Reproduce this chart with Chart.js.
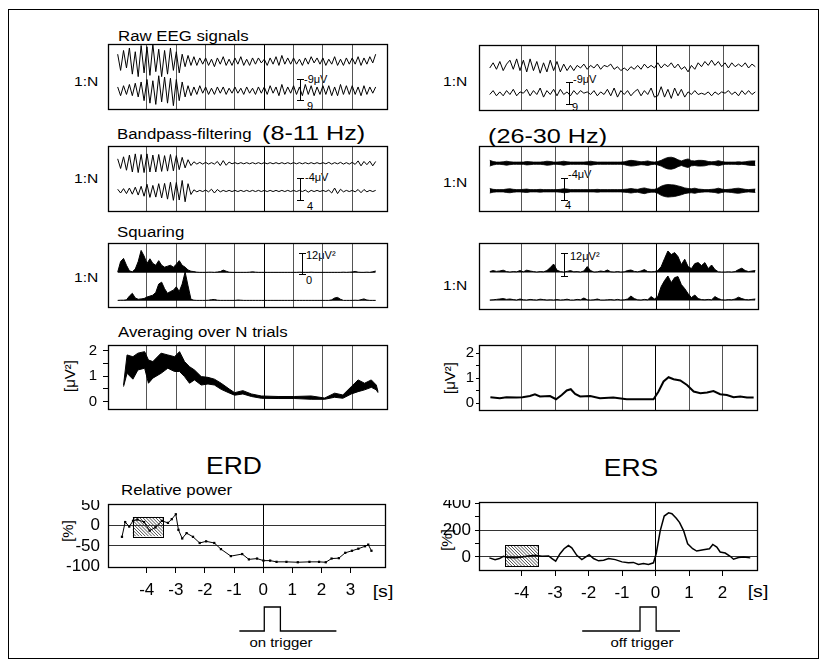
<!DOCTYPE html>
<html>
<head>
<meta charset="utf-8">
<script src="https://cdn.jsdelivr.net/npm/chart.js@4.4.0/dist/chart.umd.min.js"></script>
<style>
body { margin: 0; background: #fff; width: 824px; height: 664px; position: relative; overflow: hidden; font-family: "Liberation Sans", Arial, sans-serif; color: #000; }
canvas { position: absolute; }
.t { position: absolute; white-space: nowrap; line-height: 1; transform-origin: 0 50%; transform: translateY(-50%) scaleX(1.2); }
.c { position: absolute; white-space: nowrap; line-height: 1; transform: translate(-50%, -50%) scaleX(1.15); }
.rot { position: absolute; white-space: nowrap; line-height: 1; transform: translate(-50%, -50%) rotate(-90deg); }
.s { position: absolute; white-space: nowrap; line-height: 1; transform: translateY(-50%); font-size: 11px; }
.bar { position: absolute; border-left: 1px solid #000; }
.bar:before, .bar:after { content: ""; position: absolute; left: -4px; width: 7px; border-top: 1px solid #000; }
.bar:before { top: 0; }
.bar:after { bottom: 0; }
#frame { position: absolute; left: 8px; top: 9px; width: 809px; height: 648px; border: 1px solid #000; }
</style>
</head>
<body>
<div id="frame"></div>

<div class="t" style="left:118px;top:36px;font-size:14px">Raw EEG signals</div>
<div class="t" style="left:117px;top:134px;font-size:14px">Bandpass-filtering</div>
<div class="t" style="left:262px;top:132px;font-size:21px">(8-11 Hz)</div>
<div class="t" style="left:488px;top:135px;font-size:21px">(26-30 Hz)</div>
<div class="t" style="left:117px;top:232px;font-size:14px">Squaring</div>
<div class="t" style="left:118px;top:332px;font-size:14px">Averaging over N trials</div>
<div class="t" style="left:121px;top:490px;font-size:14px">Relative power</div>
<div class="c" style="left:234px;top:466px;font-size:23px">ERD</div>
<div class="c" style="left:631px;top:468px;font-size:23px">ERS</div>

<div class="t" style="left:74px;top:81px;font-size:13px">1:N</div>
<div class="t" style="left:74px;top:178px;font-size:13px">1:N</div>
<div class="t" style="left:74px;top:277px;font-size:13px">1:N</div>
<div class="t" style="left:443px;top:81px;font-size:13px">1:N</div>
<div class="t" style="left:443px;top:182px;font-size:13px">1:N</div>
<div class="t" style="left:443px;top:285px;font-size:13px">1:N</div>

<div class="rot" style="left:69px;top:376px;font-size:15px">[μV²]</div>
<div class="rot" style="left:449px;top:378px;font-size:15px">[μV²]</div>
<div class="rot" style="left:67px;top:531px;font-size:15px">[%]</div>
<div class="rot" style="left:446px;top:540px;font-size:15px">[%]</div>
<div class="c" style="left:383px;top:591px;font-size:17px">[s]</div>
<div class="c" style="left:758px;top:591px;font-size:17px">[s]</div>
<div class="c" style="left:281px;top:642px;font-size:13px">on trigger</div>
<div class="c" style="left:642px;top:642px;font-size:13px">off trigger</div>

<div class="bar" style="left:300px;top:79px;height:22px"></div>
<div class="s" style="left:304px;top:79px">-9μV</div>
<div class="s" style="left:307px;top:106px">9</div>
<div class="bar" style="left:569px;top:82px;height:23px"></div>
<div class="s" style="left:573px;top:79px">-9μV</div>
<div class="s" style="left:572px;top:107px">9</div>
<div class="bar" style="left:300px;top:178px;height:23px"></div>
<div class="s" style="left:305px;top:177px">-4μV</div>
<div class="s" style="left:307px;top:206px">4</div>
<div class="bar" style="left:564px;top:178px;height:23px"></div>
<div class="s" style="left:568px;top:174px">-4μV</div>
<div class="s" style="left:565px;top:205px">4</div>
<div class="bar" style="left:302px;top:253px;height:22px"></div>
<div class="s" style="left:306px;top:255px">12μV²</div>
<div class="s" style="left:306px;top:280px">0</div>
<div class="bar" style="left:564px;top:253px;height:24px"></div>
<div class="s" style="left:570px;top:256px">12μV²</div>

<script>
// time axes in seconds
const leftRange = [-5.33, 4.22];
const rightRange = [-5.27, 3.06];
const secondTicksLeft = [-4, -3, -2, -1, 0, 1, 2, 3];
const secondTicksRight = [-4, -3, -2, -1, 0, 1, 2];
const sampleStep = 0.1;
const leftStart = -5.0;
const rightStart = -4.95;

// raw EEG, uV (negative up)
const rawLeftTop = [-6,7,-9,5,-11,10,-8,12,-13,9, -12,11,-14,8,-10,12,-9,10,-11,7, -8,9,-6,4,-5,3,-4,3,-3,2, -3,3,-2,4,-3,2,-4,3,-2,3,
  -3,2,-4,3,-2,3,-3,2,-3,1, -2,3,-3,2,-4,3,-5,2,-3,2, -3,2,-2,3,-3,2,-4,1,-3,2, -3,3,-2,2,-4,3,-2,3,-3,2, -3,2,-4,3,-3,2,-4,1,-6];
const rawLeftBottom = [-3,4,-4,3,-5,4,-6,5,-7,8, -9,10,-8,11,-12,9,-11,10,-10,12, -9,8,-7,5,-4,4,-3,3,-4,2, -3,3,-2,3,-3,2,-3,3,-2,2,
  -3,2,-2,3,-3,2,-2,3,-3,2, -3,3,-4,2,-3,4,-5,3,-3,2, -4,3,-3,4,-5,3,-4,4,-3,3, -4,3,-4,4,-3,4,-5,3,-4,3, -4,3,-3,4,-4,3,-3,2,-3];
const rawRightTop = [1,-3,2,-4,3,-2,-5,2,-6,3, -5,4,-6,3,-4,5,-3,4,-5,3, -4,4,-2,3,-1,3,-1,1,-2,2, -1,1,-2,2,-1,0,-2,2,0,3,
  1,3,0,2,-1,2,-2,1,-1,1, -3,1,-2,0,-3,1,-2,2,0,4, -1,2,-3,0,-4,-1,-5,-1,-4,0, -3,1,-3,0,-2,0,-3,1,-2,0];
const rawRightBottom = [1,-2,2,-1,2,-2,1,-3,2,-1, 0,-3,2,-2,1,-4,3,-2,1,-3, 2,-3,1,-1,2,-2,1,-2,0,-1, 1,-2,2,-1,1,-3,2,-4,3,-2,
  1,-2,2,-1,-3,2,-2,1,-4,3, 2,-5,3,-3,4,-4,2,-3,3,-1, 1,-2,1,0,1,-1,2,-1,1,-1, 0,-2,1,-1,2,-2,1,-2,1,-1];

// bandpass 8-11 Hz, uV
const bpLeftTop = [-1.5,1.8,-2.2,2.4,-2.8,3,-3.2,3.2,-3,3.2, -3.2,3,-2.8,3,-3,2.8,-2.6,2.7,-3,2.6, -2.6,2.2,-2,1.6,-1.2,0.8,-0.5,0.3,-0.3,0.3,
  -0.3,0.3,-0.2,0.3,-0.6,0.8,-0.9,0.7,-0.4,0.2, -0.2,0.2,-0.2,0.2,-0.2,0.2,-0.2,0.2,-0.2,0.2, -0.2,0.2,-0.2,0.2,-0.2,0.2,-0.2,0.2,-0.2,0.2,
  -0.2,0.2,-0.2,0.2,-0.2,0.2,-0.2,0.2,-0.2,0.2, -0.2,0.2,-0.3,0.3,-0.2,0.2,-0.3,0.3,-0.2,0.3, -0.3,0.4,-0.8,0.9,-0.6,0.5,-0.7,0.9,-0.6];
const bpLeftBottom = [-0.6,0.7,-0.8,0.9,-1,1.1,-1.3,1.4,-1.6,1.8, -2.3,2.2,-1.9,2.1,-2.5,2.4,-2.6,2.8,-3,3.2, -2.9,3.1,-3.6,3.7,-2.5,1.2,-0.4,0.3,-0.2,0.2,
  -0.3,0.3,-0.6,0.7,-0.5,0.3,-0.2,0.2,-0.2,0.2, -0.2,0.2,-0.2,0.2,-0.2,0.2,-0.2,0.2,-0.2,0.2, -0.2,0.2,-0.2,0.2,-0.2,0.2,-0.2,0.2,-0.2,0.2,
  -0.2,0.2,-0.2,0.2,-0.3,0.4,-0.2,0.2,-0.2,0.2, -0.2,0.2,-0.3,0.7,-1,0.9,-0.6,0.3,-0.2,0.2, -0.2,0.3,-0.5,0.6,-0.5,0.3,-0.2,0.2,-0.2];

// bandpass 26-30 Hz, envelope half-width in uV
const bpRightTopEnv = [1.0,0.6,0.4,0.4,0.5,0.7,0.5,0.4,0.4,0.4, 0.4,0.6,0.5,0.4,0.4,0.4,0.5,0.7,0.6,0.4, 0.4,0.5,0.7,0.5,0.4,0.4,0.4,0.4,0.4,0.5,
  0.7,0.5,0.4,0.4,0.4,0.4,0.4,0.4,0.4,0.4, 0.5,0.8,1.0,0.9,0.7,0.5,0.6,0.8,0.5,0.4, 0.6,1.0,1.6,2.0,2.1,1.8,1.2,0.8,1.2,1.5,
  0.9,0.8,1.0,1.0,0.9,0.6,0.5,0.6,0.9,0.6, 0.4,0.4,0.4,0.4,0.5,0.4,0.5,0.7,0.8,0.8];
const bpRightBottomEnv = [0.8,0.5,0.4,0.4,0.4,0.6,0.7,0.5,0.4,0.4, 0.5,0.6,0.4,0.4,0.4,0.5,0.4,0.4,0.4,0.4, 0.4,0.5,0.7,0.6,0.4,0.4,0.4,0.4,0.4,0.4,
  0.4,0.4,0.5,0.4,0.4,0.4,0.4,0.4,0.4,0.4, 0.5,0.6,0.8,0.6,0.5,0.8,1.0,0.7,0.5,0.5, 0.9,1.6,2.0,2.2,2.1,2.0,1.7,1.4,1.0,0.8,
  0.7,0.9,0.6,0.5,0.4,0.4,0.5,0.6,0.9,0.6, 0.4,0.5,0.6,0.8,0.9,0.7,0.5,0.4,0.5,0.6];

// squared signals, uV^2
const sqLeftTop = [0.3,6,7.7,4,1,0.5,2,6,12,9, 5,7.5,5,4,6.5,4,3,3.5,4,3, 4.5,6.5,4,3,1.5,0.8,0.6,0.3,0.2,0.2,
  0.2,0.3,0.3,0.2,0.4,0.6,1.4,0.8,0.3,0.2, 0.2,0.2,0.2,0.2,0.2,0.3,0.5,0.3,0.2,0.2, 0.2,0.2,0.2,0.2,0.2,0.2,0.2,0.2,0.2,0.2,
  0.2,0.2,0.3,0.2,0.2,0.2,0.3,0.2,0.2,0.2, 0.2,0.2,0.2,0.2,0.2,0.2,0.2,0.3,0.2,0.3, 0.4,0.7,0.3,0.2,0.2,0.3,0.2,0.5,0.9];
const sqLeftBottom = [0.2,0.3,0.3,0.5,2.5,4,1.5,0.8,1,1.2, 2,2.5,3,4.5,9,10,6.5,4,5,5.7, 7.5,5,9,15.5,8,0.8,0.3,0.2,0.2,0.2,
  0.2,0.3,0.6,0.7,0.3,0.2,0.2,0.2,0.2,0.2, 0.2,0.4,0.3,0.2,0.2,0.2,0.2,0.2,0.2,0.2, 0.2,0.2,0.2,0.2,0.2,0.2,0.2,0.2,0.2,0.2,
  0.2,0.2,0.2,0.2,0.2,0.2,0.2,0.2,0.2,0.2, 0.2,0.2,0.2,0.5,1.5,1.8,0.8,0.2,0.2,0.2, 0.2,0.3,0.2,0.6,1.0,0.4,0.2,0.2,0.2];
const sqRightTop = [0.5,1,0.6,0.8,1.2,0.5,0.3,0.5,0.4,1, 0.4,1.2,0.8,0.5,0.3,0.5,0.4,1,2.5,4.3, 1.2,0.5,0.3,0.6,1,0.4,0.5,0.3,0.8,3,
  1,0.3,0.4,0.8,0.5,1.3,0.4,0.3,0.5,0.3, 0.4,1,1.3,0.6,0.4,0.8,1.5,0.5,0.4,0.5, 1,3,7,10.8,9,10,8,4,6.7,3,
  2,4.5,5,3.5,5,2,3.8,1.5,0.4,0.3, 0.3,0.4,0.3,0.5,1.5,2.2,1,0.5,0.8,1];
const sqRightBottom = [0.3,0.4,0.6,0.8,1,0.6,0.8,0.5,0.3,0.8, 0.4,0.3,0.6,0.4,0.3,0.7,0.5,0.3,0.4,0.3, 0.5,0.3,0.4,0.7,0.3,0.3,0.6,0.4,1.3,0.4,
  0.3,0.4,0.8,0.3,0.3,0.4,0.5,0.3,0.6,0.3, 0.4,0.8,2.3,1,0.4,0.3,0.6,0.4,2,0.8, 2,7,10,12.3,9,11.5,12,8,6,3.5,
  1.5,2.8,1,0.5,0.4,0.6,0.4,2,1,0.4, 0.3,0.5,0.4,0.8,1.7,1,0.5,0.4,0.6,0.8];

// averaged power, uV^2
const avgLeftTime = [-4.8,-4.68,-4.48,-4.31,-4.08,-3.95,-3.8,-3.52,-3.29,-3.06,-2.89,-2.72,-2.55,-2.38,-2.15,-1.92,-1.7,-1.47,-1.18,-1.01,-0.73,-0.44,-0.1,0.47,1.04,1.6,2.06,2.4,2.68,2.97,3.2,3.42,3.65,3.82,3.88];
const avgLeftHigh = [0.65,1.83,1.76,1.9,1.96,1.63,1.57,1.9,1.83,1.76,1.96,1.57,1.37,1.24,0.98,0.95,0.88,0.72,0.48,0.35,0.43,0.3,0.22,0.2,0.2,0.22,0.14,0.33,0.26,0.59,0.85,0.72,0.85,0.65,0.39];
const avgLeftLow = [0.59,1.11,0.88,1.24,1.31,0.72,0.92,1.11,1.31,1.18,1.18,0.98,0.72,0.85,0.65,0.69,0.65,0.48,0.33,0.25,0.3,0.2,0.13,0.12,0.12,0.09,0.09,0.17,0.13,0.3,0.39,0.46,0.56,0.46,0.35];
const avgRightTime = [-4.93,-4.65,-4.45,-4.15,-3.97,-3.75,-3.6,-3.45,-3.15,-2.97,-2.8,-2.65,-2.53,-2.4,-2.25,-1.95,-1.66,-1.26,-0.86,-0.46,-0.06,0.09,0.24,0.39,0.54,0.74,0.94,1.14,1.34,1.54,1.73,1.93,2.13,2.33,2.53,2.73,2.93];
const avgRightValue = [0.24,0.2,0.24,0.23,0.24,0.29,0.36,0.27,0.29,0.16,0.33,0.51,0.56,0.37,0.27,0.29,0.2,0.23,0.16,0.16,0.16,0.47,0.87,1.04,0.96,0.91,0.73,0.47,0.4,0.43,0.49,0.36,0.33,0.24,0.27,0.23,0.23];
const avgTicks = [0, 0.5, 1, 1.5, 2];

// relative power, %
const erdTime = [-4.85,-4.74,-4.6,-4.47,-4.32,-4.09,-3.9,-3.7,-3.48,-3.27,-3.14,-3.0,-2.91,-2.78,-2.63,-2.41,-2.18,-1.96,-1.68,-1.45,-1.11,-0.72,-0.49,-0.21,0.01,0.24,0.46,0.8,1.19,1.59,1.92,2.15,2.35,2.6,2.82,3.05,3.27,3.5,3.61,3.72];
const erdValue = [-28,8,-3,11,14,8,-13,-5,11,6,15,27,-11,-32,-19,-28,-43,-39,-43,-58,-75,-70,-83,-81,-86,-86,-89,-89,-90,-89,-89,-90,-81,-80,-67,-62,-57,-51,-47,-62];
const erdTicks = [-100, -50, 0, 50];
const ersTime = [-4.96,-4.79,-4.66,-4.54,-4.39,-4.19,-3.99,-3.79,-3.59,-3.39,-3.19,-3.09,-2.98,-2.85,-2.73,-2.6,-2.5,-2.35,-2.2,-2.08,-1.98,-1.85,-1.7,-1.55,-1.4,-1.2,-1.0,-0.81,-0.66,-0.51,-0.36,-0.21,-0.06,0.02,0.14,0.26,0.39,0.49,0.62,0.72,0.84,0.96,1.11,1.23,1.43,1.61,1.71,1.83,1.93,2.08,2.23,2.33,2.48,2.63,2.83];
const ersValue = [-7,-20,-12,5,-5,-7,0,7,12,5,7,-12,-32,24,61,85,68,12,-20,0,17,-12,-29,-24,-12,-20,-37,-44,-41,-56,-49,-56,-44,24,195,305,329,322,288,256,195,98,61,44,54,61,93,73,37,29,5,-17,-5,0,-7];
const ersTicks = [0, 100, 200, 300, 400];

// reference intervals (hatched)
const erdRefTime = [-4.48, -3.45];
const erdRefRange = [-27, 21];
const ersRefTime = [-4.48, -3.5];
const ersRefRange = [-68, 90];

// trigger signals
const onTriggerTime = [-0.85, 0, 0, 0.55, 0.55, 2.46];
const offTriggerTime = [-2.2, -0.48, -0.48, 0, 0, 0.71];
const triggerLevel = [0, 0, 1, 1, 0, 0];

Chart.defaults.font.family = '"Liberation Sans", Arial, sans-serif';
Chart.defaults.color = '#000';

const framePlugin = {
    id: 'frame',
    afterDraw(chart) {
        const a = chart.chartArea;
        const ctx = chart.ctx;
        ctx.save();
        ctx.strokeStyle = '#000';
        ctx.lineWidth = 1.3;
        ctx.strokeRect(Math.round(a.left) + 0.5, Math.round(a.top) + 0.5, Math.round(a.right - a.left) - 1, Math.round(a.bottom - a.top) - 1);
        ctx.restore();
    }
};

const refBoxPlugin = {
    id: 'refBox',
    beforeDatasetsDraw(chart, args, opts) {
        if (!opts || !opts.time) return;
        const x = chart.scales.x, y = chart.scales.y;
        const l = x.getPixelForValue(opts.time[0]), r = x.getPixelForValue(opts.time[1]);
        const t = y.getPixelForValue(opts.range[1]), b = y.getPixelForValue(opts.range[0]);
        const ctx = chart.ctx;
        ctx.save();
        ctx.beginPath();
        ctx.rect(l, t, r - l, b - t);
        ctx.clip();
        ctx.strokeStyle = '#222';
        ctx.lineWidth = 0.8;
        for (let d = -(b - t); d < r - l; d += 3.2) {
            ctx.beginPath();
            ctx.moveTo(l + d, t);
            ctx.lineTo(l + d + (b - t), b);
            ctx.stroke();
        }
        ctx.restore();
        ctx.save();
        ctx.strokeStyle = '#000';
        ctx.lineWidth = 1;
        ctx.strokeRect(Math.round(l) + 0.5, Math.round(t) + 0.5, Math.round(r - l), Math.round(b - t));
        ctx.restore();
    }
};

function addCanvas(left, top, width, height) {
    const c = document.createElement('canvas');
    c.width = width;
    c.height = height;
    c.style.left = left + 'px';
    c.style.top = top + 'px';
    c.style.width = width + 'px';
    c.style.height = height + 'px';
    document.body.appendChild(c);
    return c;
}

function sampled(start, values) {
    return values.map((v, i) => ({ x: start + i * sampleStep, y: v }));
}

function paired(times, values) {
    return times.map((t, i) => ({ x: t, y: values[i] }));
}

function line(data, yAxisID, extra) {
    return Object.assign({ data, yAxisID, borderColor: '#000', borderWidth: 1, pointRadius: 0, tension: 0, fill: false }, extra || {});
}

function timeAxis(range, ticks) {
    return {
        type: 'linear', min: range[0], max: range[1],
        afterBuildTicks: s => { s.ticks = ticks.map(v => ({ value: v })); },
        afterFit: s => { s.height = 0; s.paddingLeft = 0; s.paddingRight = 0; },
        ticks: { display: false },
        grid: { color: c => (c.tick && c.tick.value === 0) ? '#000' : '#555', drawTicks: false, tickLength: 0 },
        border: { display: false }
    };
}

function hiddenY(min, max, reverse) {
    return { type: 'linear', display: false, min, max, reverse: !!reverse };
}

function baseOptions(scales, padding, extraPlugins) {
    return {
        responsive: false, animation: false, devicePixelRatio: 1,
        layout: { padding },
        plugins: Object.assign({ legend: { display: false }, tooltip: { enabled: false } }, extraPlugins || {}),
        scales
    };
}

function tracePanel(box, range, ticks, datasets, yScales) {
    const c = addCanvas(box[0] - 2, box[1] - 2, box[2] + 4, box[3] + 4);
    return new Chart(c, {
        type: 'line',
        data: { datasets },
        options: baseOptions(Object.assign({ x: timeAxis(range, ticks) }, yScales), 2),
        plugins: [framePlugin]
    });
}

// raw EEG
tracePanel([108, 44, 280, 66], leftRange, secondTicksLeft, [
    line(sampled(leftStart, rawLeftTop), 'yTop'),
    line(sampled(leftStart, rawLeftBottom), 'yBot')
], { yTop: hiddenY(-14.2, 38.8, true), yBot: hiddenY(-37.5, 15.5, true) });

tracePanel([479, 45, 280, 66], rightRange, secondTicksRight, [
    line(sampled(rightStart, rawRightTop), 'yTop'),
    line(sampled(rightStart, rawRightBottom), 'yBot')
], { yTop: hiddenY(-16.7, 34.1, true), yBot: hiddenY(-37.1, 13.7, true) });

// bandpass filtered
tracePanel([108, 146, 280, 66], leftRange, secondTicksLeft, [
    line(sampled(leftStart, bpLeftTop), 'yTop'),
    line(sampled(leftStart, bpLeftBottom), 'yBot')
], { yTop: hiddenY(-5.9, 16.7, true), yBot: hiddenY(-15.4, 7.2, true) });

tracePanel([479, 146, 280, 66], rightRange, secondTicksRight, [
    line(sampled(rightStart, bpRightTopEnv.map(v => -v)), 'yTop', { borderWidth: 0.8 }),
    line(sampled(rightStart, bpRightTopEnv), 'yTop', { borderWidth: 0.8, fill: '-1', backgroundColor: '#000' }),
    line(sampled(rightStart, bpRightBottomEnv.map(v => -v)), 'yBot', { borderWidth: 0.8 }),
    line(sampled(rightStart, bpRightBottomEnv), 'yBot', { borderWidth: 0.8, fill: '-1', backgroundColor: '#000' })
], { yTop: hiddenY(-6.0, 17.0, true), yBot: hiddenY(-15.6, 7.4, true) });

// squaring
tracePanel([108, 243, 280, 65], leftRange, secondTicksLeft, [
    line(sampled(leftStart, sqLeftTop), 'yTop', { fill: 'origin', backgroundColor: '#000' }),
    line(sampled(leftStart, sqLeftBottom), 'yBot', { fill: 'origin', backgroundColor: '#000' })
], { yTop: hiddenY(-19.0, 16.0), yBot: hiddenY(-3.9, 31.1) });

tracePanel([479, 243, 280, 67], rightRange, secondTicksRight, [
    line(sampled(rightStart, sqRightTop), 'yTop', { fill: 'origin', backgroundColor: '#000' }),
    line(sampled(rightStart, sqRightBottom), 'yBot', { fill: 'origin', backgroundColor: '#000' })
], { yTop: hiddenY(-18.7, 14.8), yBot: hiddenY(-4.7, 28.8) });

// averaging over N trials
function avgAxis(min, max, width, tickLength, padding) {
    return {
        type: 'linear', min, max,
        afterBuildTicks: s => { s.ticks = avgTicks.map(v => ({ value: v })); },
        afterFit: s => { s.width = width; s.paddingTop = 0; s.paddingBottom = 0; },
        ticks: { font: { size: 15 }, padding, autoSkip: false, callback: v => Number.isInteger(v) ? String(v) : '' },
        grid: { drawOnChartArea: false, tickLength, color: '#000' },
        border: { display: false }
    };
}

new Chart(addCanvas(78, 343, 312, 69), {
    type: 'line',
    data: { datasets: [
        line(paired(avgLeftTime, avgLeftHigh), 'y'),
        line(paired(avgLeftTime, avgLeftLow), 'y', { fill: '-1', backgroundColor: '#000' })
    ] },
    options: baseOptions({ x: timeAxis(leftRange, secondTicksLeft), y: avgAxis(-0.33, 2.22, 30, 5, 6) }, { left: 0, top: 2, right: 2, bottom: 2 }),
    plugins: [framePlugin]
});

new Chart(addCanvas(449, 343, 311, 70), {
    type: 'line',
    data: { datasets: [
        line(paired(avgRightTime, avgRightValue), 'y', { borderWidth: 2 })
    ] },
    options: baseOptions({ x: timeAxis(rightRange, secondTicksRight), y: avgAxis(-0.31, 2.33, 30, 3, 2) }, { left: 0, top: 2, right: 2, bottom: 2 }),
    plugins: [framePlugin]
});

// relative power (ERD / ERS)
function powerX(range, ticks) {
    return {
        type: 'linear', min: range[0], max: range[1],
        afterBuildTicks: s => { s.ticks = ticks.map(v => ({ value: v })); },
        afterFit: s => { s.height = 36; s.paddingLeft = 0; s.paddingRight = 0; },
        ticks: { font: { size: 17 }, padding: 7, autoSkip: false, maxRotation: 0 },
        grid: { color: c => (c.tick && c.tick.value === 0) ? '#000' : 'rgba(0,0,0,0)', tickColor: '#000', tickLength: 5 },
        border: { display: false }
    };
}

function powerY(min, max, ticks, gridAt, labelled, width, tickLength, padding) {
    return {
        type: 'linear', min, max,
        afterBuildTicks: s => { s.ticks = ticks.map(v => ({ value: v })); },
        afterFit: s => { s.width = width; s.paddingTop = 0; s.paddingBottom = 0; },
        ticks: { font: { size: 17 }, padding, autoSkip: false, callback: v => labelled.includes(v) ? String(v) : '' },
        grid: {
            color: c => (c.tick && gridAt.includes(c.tick.value)) ? '#333' : 'rgba(0,0,0,0)',
            tickColor: '#000', tickLength, drawTicks: tickLength > 0
        },
        border: { display: false }
    };
}

new Chart(addCanvas(50, 500, 340, 104), {
    type: 'line',
    data: { datasets: [
        line(paired(erdTime, erdValue), 'y', { pointRadius: 1.6, pointStyle: 'rect', pointBackgroundColor: '#000', pointBorderWidth: 0 })
    ] },
    options: baseOptions({
        x: powerX(leftRange, secondTicksLeft),
        y: powerY(-104, 52, erdTicks, [0, -50], erdTicks, 58, 0, 8)
    }, { left: 0, top: 2, right: 2, bottom: 0 }, { refBox: { time: erdRefTime, range: erdRefRange } }),
    plugins: [framePlugin, refBoxPlugin]
});

new Chart(addCanvas(429, 500, 331, 107), {
    type: 'line',
    data: { datasets: [
        line(paired(ersTime, ersValue), 'y', { borderWidth: 1.5 })
    ] },
    options: baseOptions({
        x: powerX(rightRange, secondTicksRight),
        y: powerY(-105, 410, ersTicks, [0, 200], [0, 200, 400], 50, 4, 4)
    }, { left: 0, top: 2, right: 2, bottom: 0 }, { refBox: { time: ersRefTime, range: ersRefRange } }),
    plugins: [framePlugin, refBoxPlugin]
});

// trigger pulses
function triggerChart(left, range, times) {
    return new Chart(addCanvas(left, 605, 284, 28), {
        type: 'line',
        data: { datasets: [ line(paired(times, triggerLevel), 'y', { borderWidth: 1.3, clip: false }) ] },
        options: baseOptions({
            x: { type: 'linear', display: false, min: range[0], max: range[1] },
            y: hiddenY(0, 1)
        }, 2)
    });
}

triggerChart(106, leftRange, onTriggerTime);
triggerChart(477, rightRange, offTriggerTime);
</script>
</body>
</html>
